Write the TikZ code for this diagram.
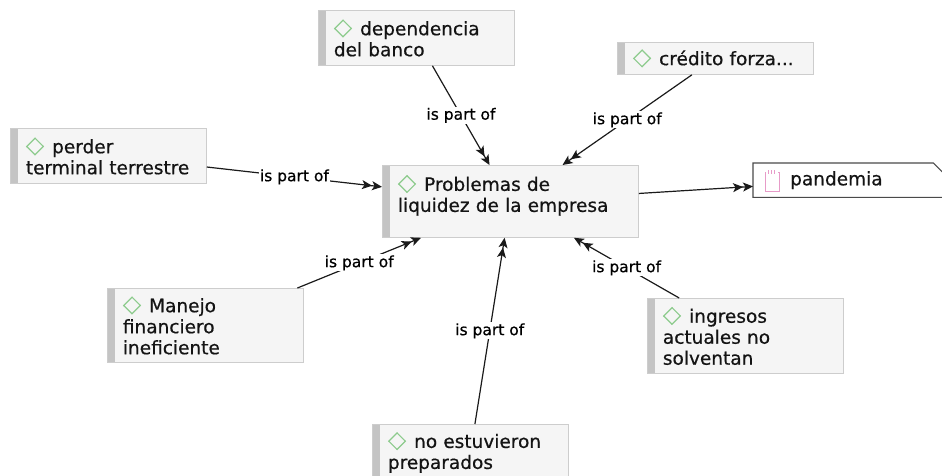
\documentclass[tikz,border=0pt]{standalone}
\usepackage{fontspec}
\setmainfont{DejaVu Sans}[FakeBold=0.6]
\usepackage{graphicx}
\usetikzlibrary{arrows.meta}
\definecolor{dgreen}{HTML}{8DCB8D}
\definecolor{barcol}{HTML}{C4C4C4}
\definecolor{boxline}{HTML}{CDCDCD}
\definecolor{boxfill}{HTML}{F5F5F5}
\definecolor{memo}{HTML}{E79BC8}
\definecolor{edgecol}{HTML}{1A1A1A}
\definecolor{pandline}{HTML}{4A4A4A}
\newcommand\dmd{\raisebox{-1.5pt}{\rotatebox{45}{\color{dgreen}\setlength{\fboxrule}{1.2pt}\setlength{\fboxsep}{0pt}\fbox{\rule{0pt}{10.5pt}\hspace{10.5pt}}}}\hspace{8pt}}
\begin{document}
\begin{tikzpicture}[x=1pt,y=-1pt,
  codebox/.style={draw=boxline, line width=0.8pt, fill=boxfill, anchor=north west,
    inner xsep=15.5pt, inner ysep=0pt, align=left, minimum width=196pt, text width=165pt,
    font=\fontsize{18.5}{21}\selectfont, text=black!92,
    path picture={\fill[barcol] (path picture bounding box.north west) rectangle ([xshift=8pt]path picture bounding box.south west);}},
  conn/.style={draw=edgecol, line width=1.2pt, -{Stealth[length=10pt,width=9pt,inset=2.5pt]Stealth[length=10pt,width=9pt,inset=2.5pt]}},
  lbl/.style={fill=white, inner sep=1pt, font=\fontsize{15.5}{16}\selectfont, text=black}]
\useasboundingbox (0,0) rectangle (942,476);

\node[codebox, minimum height=55pt] (dep) at (318,10) {\dmd dependencia\\del banco};
\node[codebox, minimum height=32pt] (cred) at (617,42) {\dmd crédito forza...};
\node[codebox, minimum height=55pt] (perd) at (10,128) {\dmd perder\\terminal terrestre};
\node[codebox, minimum height=72pt, minimum width=256pt, text width=225pt] (cent) at (382,165)
  {\dmd Problemas de\\liquidez de la empresa\rule[-16pt]{0pt}{16pt}};
\node[codebox, minimum height=74pt] (man) at (107,288) {\dmd Manejo\\financiero\\ineficiente};
\node[codebox, minimum height=75pt] (ing) at (647,298) {\dmd ingresos\\actuales no\\solventan};
\node[codebox, minimum height=56pt] (noe) at (372,424) {\dmd no estuvieron\\preparados};

\node[anchor=north west, minimum height=34pt, text width=200pt, inner xsep=0pt, inner ysep=0pt,
  align=left, font=\fontsize{18.5}{21}\selectfont, text=black!92] (pand) at (753,163) {\hspace*{37pt}pandemia};
\draw[pandline, line width=1.1pt] (pand.south east) -- (pand.south west) -- (pand.north west)
  -- ([xshift=-20pt]pand.north east) -- ([yshift=-20pt]pand.north east);
\begin{scope}[shift={(pand.north west)}, memo, line width=0.9pt]
  \draw (12,9) -- (12,28) -- (26,28) -- (26,9);
  \draw (12,9) -- (13,9) (25,9) -- (26,9);
  \foreach \i in {15.5,18.5,21.5} \draw[line width=0.7pt] (\i,7) -- (\i,11);
\end{scope}

\draw[conn] (dep) -- node[lbl]{is part of} (cent);
\draw[conn] (cred) -- node[lbl]{is part of} (cent);
\draw[conn] (perd) -- node[lbl]{is part of} (cent);
\draw[conn] (man) -- node[lbl]{is part of} (cent);
\draw[conn] (noe) -- node[lbl]{is part of} (cent);
\draw[conn] (ing) -- node[lbl]{is part of} (cent);
\draw[conn] (cent) -- (pand);
\end{tikzpicture}
\end{document}
